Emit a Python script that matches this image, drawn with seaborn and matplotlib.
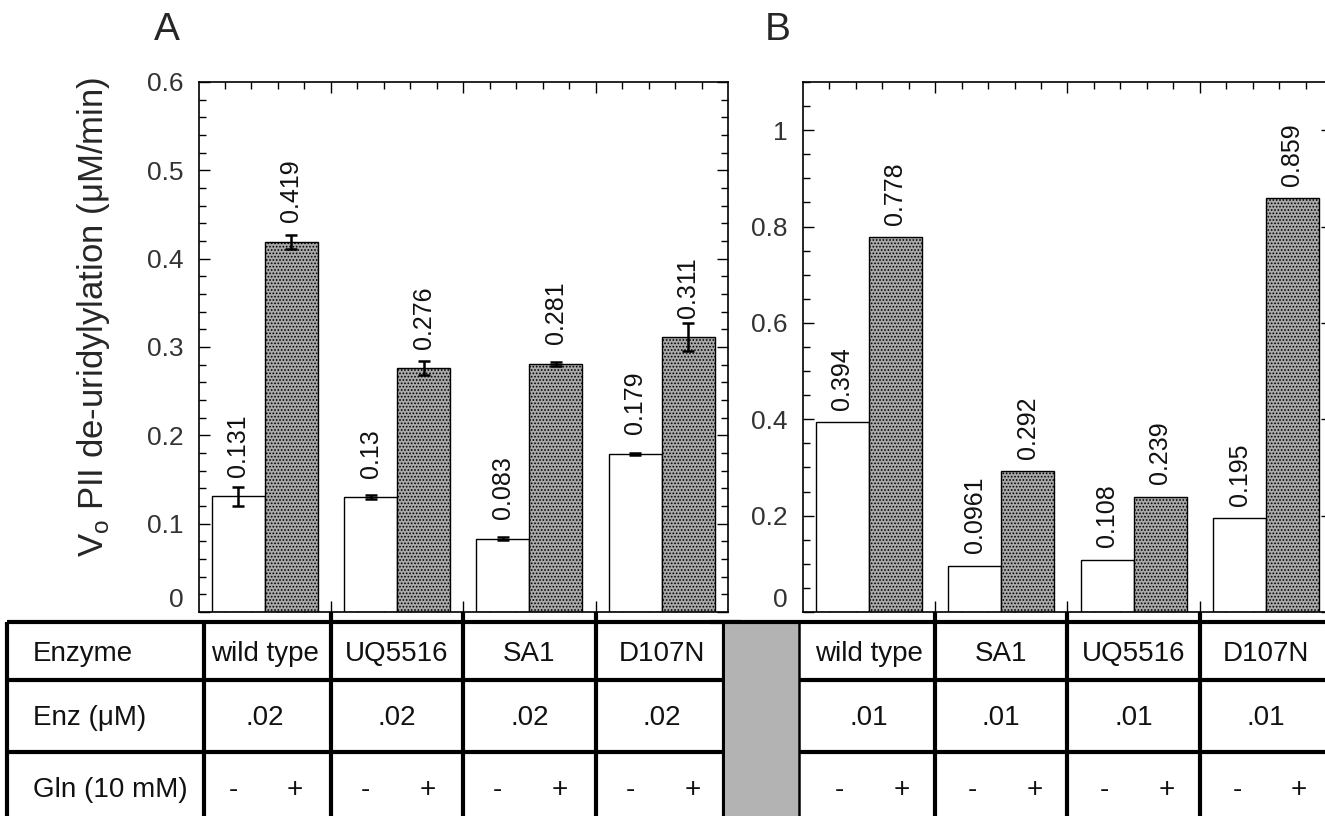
import numpy as np
import pandas as pd
import matplotlib
matplotlib.use("Agg")
import matplotlib.pyplot as plt
import seaborn as sns
from matplotlib.ticker import MultipleLocator, FixedLocator, FuncFormatter
from matplotlib.patches import Rectangle

# ---------------- data ----------------
enzymes_A = ["wild type", "UQ5516", "SA1", "D107N"]
minus_A = [0.131, 0.13, 0.083, 0.179]
plus_A = [0.419, 0.276, 0.281, 0.311]
err_minus_A = [0.011, 0.002, 0.002, 0.001]
err_plus_A = [0.008, 0.008, 0.002, 0.016]
enz_conc_A = [".02", ".02", ".02", ".02"]

enzymes_B = ["wild type", "SA1", "UQ5516", "D107N"]
minus_B = [0.394, 0.0961, 0.108, 0.195]
plus_B = [0.778, 0.292, 0.239, 0.859]
enz_conc_B = [".01", ".01", ".01", ".01"]

gln_levels = ["-", "+"]
row_labels = ["Enzyme", "Enz (\u03bcM)", "Gln (10 mM)"]
ylabel = "V$_\\mathregular{o}$ PII de-uridylylation (\u03bcM/min)"

# ---------------- style ----------------
sns.set_style("ticks")
plt.rcParams["font.family"] = ["Liberation Sans", "DejaVu Sans"]
plt.rcParams["hatch.color"] = "#5a5a5a"
plt.rcParams["hatch.linewidth"] = 0.8

W, H = 1325, 816
fig = plt.figure(figsize=(W / 100, H / 100), dpi=100)

def fx(px):
    return px / W

def fy(py):
    return (H - py) / H

ax_top, ax_bot = 82, 612
axA = fig.add_axes([fx(198.5), fy(ax_bot), fx(728 - 198.5), (ax_bot - ax_top) / H])
axB = fig.add_axes([fx(802.7), fy(ax_bot), fx(728 - 198.5), (ax_bot - ax_top) / H])

palette = {"-": "white", "+": "#a9a9a9"}


def make_df(enz, mi, pl):
    rows = []
    for e, a, b in zip(enz, mi, pl):
        rows.append({"enzyme": e, "gln": "-", "value": a})
        rows.append({"enzyme": e, "gln": "+", "value": b})
    return pd.DataFrame(rows)


def draw_panel(ax, enz, mi, pl, errs, ylim, major, minor, label_off):
    df = make_df(enz, mi, pl)
    sns.barplot(data=df, x="enzyme", y="value", hue="gln", order=enz,
                hue_order=gln_levels, palette=palette, width=0.8,
                edgecolor="black", linewidth=1.0, errorbar=None,
                legend=False, ax=ax, saturation=1)
    bar_conts = list(ax.containers)
    for ci, cont in enumerate(bar_conts):
        vals = mi if ci == 0 else pl
        for bi, bar in enumerate(cont):
            if ci == 1:
                bar.set_hatch(".....")
            xc = bar.get_x() + bar.get_width() / 2
            v = vals[bi]
            if errs is not None:
                ax.errorbar(xc, v, yerr=errs[ci][bi], fmt="none", ecolor="black",
                            elinewidth=1.8, capsize=4, capthick=1.8, zorder=5)
            ax.annotate(f"{v:g}", (xc, v), xytext=(0, label_off),
                        textcoords="offset points", rotation=90,
                        ha="center", va="bottom", fontsize=18, color="#111111")
    ax.set_xlim(-0.5, 3.5)
    ax.set_ylim(*ylim)
    ax.set_xticks([0.5, 1.5, 2.5])
    ax.set_xticklabels([])
    ax.xaxis.set_minor_locator(FixedLocator(np.arange(-0.3, 3.5, 0.2)))
    ax.yaxis.set_major_locator(MultipleLocator(major))
    ax.yaxis.set_minor_locator(MultipleLocator(minor))
    ax.yaxis.set_major_formatter(FuncFormatter(lambda v, p: f"{v:g}"))
    ax.set_xlabel("")
    ax.set_ylabel("")
    ax.tick_params(which="both", direction="in", top=True, right=True,
                   width=1, color="black")
    ax.tick_params(which="major", length=8, labelsize=19, labelcolor="#333333", pad=11)
    ax.tick_params(which="minor", length=5)
    for s in ax.spines.values():
        s.set_linewidth(1.2)
        s.set_color("black")


draw_panel(axA, enzymes_A, minus_A, plus_A, [err_minus_A, err_plus_A],
           (0, 0.6), 0.1, 0.02, 14)
draw_panel(axB, enzymes_B, minus_B, plus_B, None, (0, 1.1), 0.2, 0.05, 9)

axA.set_ylabel(ylabel, fontsize=25)
axA.yaxis.set_label_coords(-0.163, 0.557)

fig.text(fx(167), fy(30), "A", ha="center", va="center", fontsize=28)
fig.text(fx(778), fy(30), "B", ha="center", va="center", fontsize=28)

# ---------------- table ----------------
tab_top = 622
unit = 72.0
row_edges = [0, 0.8, 1.8, 2.8]
tab_h = unit * row_edges[-1]
tA = fig.add_axes([fx(198.5), fy(tab_top + tab_h), fx(728 - 198.5), tab_h / H])
tB = fig.add_axes([fx(802.7), fy(tab_top + tab_h), fx(728 - 198.5), tab_h / H])
for t in (tA, tB):
    t.set_xlim(-0.5, 3.5)
    t.set_ylim(row_edges[-1], 0)
    t.axis("off")

lw = 3.0
kw = dict(color="black", lw=lw, clip_on=False, solid_capstyle="butt")
text_kw = dict(fontsize=20, va="center", color="#111111")
row_mid = [(row_edges[i] + row_edges[i + 1]) / 2 + 0.04 for i in range(3)]

# left table
colsA = [-0.46, 0.5, 1.5, 2.5, 3.47]
leftA = -1.946
tA.plot([leftA, 3.6], [0, 0], **kw)
for r in row_edges[1:3]:
    tA.plot([leftA, colsA[-1]], [r, r], **kw)
tA.plot([leftA, leftA], [0, row_edges[-1]], **kw)
for i, c in enumerate(colsA):
    y0 = -0.14 if 0 < i < len(colsA) - 1 else 0
    tA.plot([c, c], [y0, row_edges[-1]], **kw)
for i, lab in enumerate(row_labels):
    tA.text(-1.75, row_mid[i], lab, ha="left", **text_kw)
for i, e in enumerate(enzymes_A):
    tA.text(i, row_mid[0], e, ha="center", **text_kw)
    tA.text(i, row_mid[1], enz_conc_A[i], ha="center", **text_kw)
    tA.text(i - 0.24, row_mid[2], gln_levels[0], ha="center", **text_kw)
    tA.text(i + 0.23, row_mid[2], gln_levels[1], ha="center", **text_kw)

# gray separator block and right table
tB.add_patch(Rectangle((-1.087, 0.02), 0.56, row_edges[-1], facecolor="#b3b3b3",
                       edgecolor="none", clip_on=False, zorder=0))
colsB = [-0.528, 0.5, 1.5, 2.5]
tB.plot([-1.2, 3.6], [0, 0], **kw)
for r in row_edges[1:3]:
    tB.plot([colsB[0], 3.6], [r, r], **kw)
for i, c in enumerate(colsB):
    y0 = -0.14 if i > 0 else 0
    tB.plot([c, c], [y0, row_edges[-1]], color="black",
            lw=(1.8 if i == 0 else lw), clip_on=False, solid_capstyle="butt")
for i, e in enumerate(enzymes_B):
    tB.text(i, row_mid[0], e, ha="center", **text_kw)
    tB.text(i, row_mid[1], enz_conc_B[i], ha="center", **text_kw)
    tB.text(i - 0.22, row_mid[2], gln_levels[0], ha="center", **text_kw)
    tB.text(i + 0.25, row_mid[2], gln_levels[1], ha="center", **text_kw)

# lift the "0" tick labels a little so they clear the table border
fig.canvas.draw()
for ax in (axA, axB):
    for tk in ax.yaxis.get_major_ticks():
        if abs(tk.get_loc()) < 1e-9:
            tk.label1.set_verticalalignment("bottom")
            tk.label1.set_y(-0.005)

fig.savefig("out.png", dpi=100)
